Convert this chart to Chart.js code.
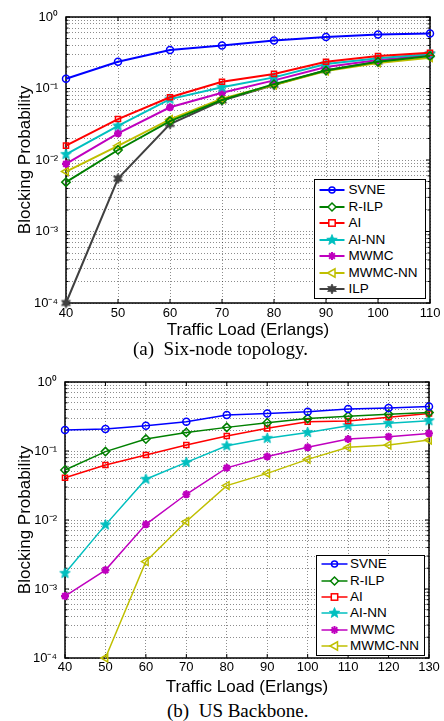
<!DOCTYPE html>
<html><head><meta charset="utf-8">
<script src="https://cdn.jsdelivr.net/npm/chart.js@4.4.1/dist/chart.umd.min.js"></script>
<style>
html,body{margin:0;padding:0;background:#fff;}
body{width:444px;height:721px;overflow:hidden;position:relative;font-family:"Liberation Sans",Arial,sans-serif;}
canvas{position:absolute;left:0;}
#c1{top:0;}
#c2{top:360px;}
.cap{position:absolute;font-family:"Liberation Serif","Times New Roman",serif;font-size:19px;line-height:22px;white-space:pre;color:#000;}
.legend{position:absolute;border:1px solid #000;background:#fff;box-sizing:border-box;font-size:13.5px;color:#000;}
.row{position:absolute;left:0;height:16px;white-space:nowrap;}
.row svg{position:absolute;left:0;top:0;}
.row span{position:absolute;top:0;line-height:16px;}
</style>
</head><body>
<canvas id="c1" width="444" height="341"></canvas>
<canvas id="c2" width="444" height="338"></canvas>
<div class="cap" style="left:133px;top:338px;">(a)  Six-node topology.</div>
<div class="cap" style="left:167px;top:700px;">(b)  US Backbone.</div>
<div class="legend" id="lg1" style="left:314px;top:179px;width:112px;height:120px;"></div>
<div class="legend" id="lg2" style="left:316px;top:555px;width:109px;height:101px;"></div>
<script>
// ---- data ----
const seriesNames = ['SVNE','R-ILP','AI','AI-NN','MWMC','MWMC-NN','ILP'];
const seriesColors = ['#0000ff','#008000','#ff0000','#00bfbf','#bf00bf','#bfbf00','#404040'];

const loadA = [40,50,60,70,80,90,100,110];
const svneA   = [0.137, 0.237, 0.345, 0.40, 0.47, 0.525, 0.57, 0.59];
const rilpA   = [0.0049, 0.0138, 0.035, 0.069, 0.115, 0.178, 0.237, 0.285];
const aiA     = [0.0159, 0.0374, 0.0753, 0.124, 0.16, 0.237, 0.285, 0.317];
const ainnA   = [0.012, 0.030, 0.071, 0.104, 0.143, 0.22, 0.264, 0.304];
const mwmcA   = [0.0088, 0.0236, 0.0546, 0.087, 0.13, 0.20, 0.25, 0.29];
const mwmcnnA = [0.0069, 0.0158, 0.037, 0.072, 0.112, 0.175, 0.228, 0.27];
const ilpA    = [0.0001, 0.0055, 0.0319, 0.068, 0.112, 0.18, 0.237, 0.30];

const loadB = [40,50,60,70,80,90,100,110,120,130];
const svneB   = [0.201, 0.208, 0.233, 0.266, 0.333, 0.35, 0.371, 0.407, 0.42, 0.44];
const rilpB   = [0.053, 0.098, 0.149, 0.186, 0.22, 0.257, 0.297, 0.32, 0.34, 0.36];
const aiB     = [0.041, 0.0627, 0.0875, 0.122, 0.165, 0.213, 0.266, 0.272, 0.308, 0.35];
const ainnB   = [0.00169, 0.0085, 0.039, 0.0685, 0.119, 0.153, 0.186, 0.233, 0.252, 0.275];
const mwmcB   = [0.00079, 0.00188, 0.00865, 0.0236, 0.057, 0.083, 0.113, 0.149, 0.161, 0.18];
const mwmcnnB = [null, 0.0001, 0.0025, 0.0095, 0.0315, 0.0474, 0.0757, 0.113, 0.122, 0.144];

const yMajorValues = [0.0001, 0.001, 0.01, 0.1, 1];
const yTickLabels = ['10\u207B\u2074','10\u207B\u00B3','10\u207B\u00B2','10\u207B\u00B9','10\u2070'];
const xTitle = 'Traffic Load (Erlangs)';
const yTitle = 'Blocking Probability';

// ---- marker images ----
function starCanvas(n, ro, ri, color){
  const s = Math.ceil(ro*2+2);
  const c = document.createElement('canvas'); c.width = s; c.height = s;
  const g = c.getContext('2d');
  g.beginPath();
  for(let k=0;k<2*n;k++){
    const r = k%2===0 ? ro : ri;
    const a = -Math.PI/2 + k*Math.PI/n;
    const px = s/2 + r*Math.cos(a), py = s/2 + r*Math.sin(a);
    k===0 ? g.moveTo(px,py) : g.lineTo(px,py);
  }
  g.closePath(); g.fillStyle = color; g.fill();
  g.strokeStyle = color; g.lineWidth = 0.8; g.stroke();
  return c;
}
const pentaImg = starCanvas(5, 5.5, 2.4, seriesColors[3]);
const hexaImg = starCanvas(6, 5.2, 2.8, seriesColors[6]);

const styles = [
  {pointStyle:'circle', pointRadius:3.5},
  {pointStyle:'rectRot', pointRadius:4.2},
  {pointStyle:'rect', pointRadius:3.6},
  {pointStyle:pentaImg, pointRadius:5},
  {pointStyle:'star', pointRadius:4},
  {pointStyle:'triangle', pointRadius:4.5, pointRotation:-90},
  {pointStyle:hexaImg, pointRadius:5}
];

function mkDataset(idx, xs, ys, lw){
  const st = styles[idx];
  return Object.assign({
    label: seriesNames[idx],
    data: xs.map((x,i)=>({x:x, y:ys[i]})),
    borderColor: seriesColors[idx],
    backgroundColor: 'rgba(0,0,0,0)',
    borderWidth: lw,
    pointBorderColor: seriesColors[idx],
    pointBackgroundColor: 'rgba(0,0,0,0)',
    pointBorderWidth: idx===4 ? 2.2 : 1.5,
    tension: 0,
    clip: false
  }, st);
}

const boxPlugin = {
  id: 'mbox',
  beforeDatasetsDraw(chart){
    const {ctx, chartArea:a, scales} = chart;
    const x = scales.x, y = scales.y;
    ctx.save();
    ctx.strokeStyle = '#000'; ctx.lineWidth = 1;
    ctx.beginPath();
    x.ticks.forEach(t=>{
      const px = x.getPixelForValue(t.value);
      ctx.moveTo(px, a.bottom); ctx.lineTo(px, a.bottom-4);
      ctx.moveTo(px, a.top); ctx.lineTo(px, a.top+4);
    });
    y.ticks.forEach(t=>{
      const py = y.getPixelForValue(t.value);
      const L = t.major ? 4 : 2.5;
      ctx.moveTo(a.left, py); ctx.lineTo(a.left+L, py);
      ctx.moveTo(a.right, py); ctx.lineTo(a.right-L, py);
    });
    ctx.stroke();
    ctx.lineWidth = 1.5;
    ctx.strokeRect(a.left, a.top, a.right-a.left, a.bottom-a.top);
    ctx.restore();
  }
};

function isMajor(v){ return yMajorValues.some(m=>Math.abs(Math.log10(v)-Math.log10(m))<1e-6); }

function makeChart(canvas, xs, dsList, xmax, yWidth, xHeight, padTop, padRight, tickPad){
  return new Chart(canvas, {
    type: 'line',
    data: { datasets: dsList },
    plugins: [boxPlugin],
    options: {
      responsive: false, animation: false, devicePixelRatio: 1,
      layout: { padding: {top: padTop, right: padRight, left: 0, bottom: 0} },
      plugins: { legend: {display:false}, tooltip: {enabled:false} },
      scales: {
        x: {
          type: 'linear', min: xs[0], max: xmax,
          afterFit(s){ s.height = xHeight; },
          ticks: { stepSize: 10, autoSkip:false, maxRotation:0, padding: tickPad, color:'#000', font:{size:13} },
          grid: { color:'rgba(0,0,0,0.45)', lineWidth:1, drawTicks:false },
          border: { display:false, dash:[1,2] },
          title: { display:true, text:xTitle, color:'#000', font:{size:17}, padding:{top:0,bottom:0} }
        },
        y: {
          type: 'logarithmic', min: 0.0001, max: 1,
          afterFit(s){ s.width = yWidth; },
          afterBuildTicks(s){
            const t = [];
            for(let e=-4;e<0;e++){ for(let m=1;m<10;m++){ const v = parseFloat((m*Math.pow(10,e)).toPrecision(6)); t.push({value:v, major: m===1}); } }
            t.push({value:1, major:true});
            s.ticks = t;
          },
          ticks: {
            autoSkip:false, padding: 8, color:'#000', font:{size:13},
            callback(v){ const i = yMajorValues.findIndex(m=>Math.abs(Math.log10(v)-Math.log10(m))<1e-6); return i>=0 ? yTickLabels[i] : ''; }
          },
          grid: { color:'rgba(0,0,0,0.45)', lineWidth:1, drawTicks:false },
          border: { display:false, dash:[1,2] },
          title: { display:true, text:yTitle, color:'#000', font:{size:17}, padding:{top:15,bottom:0} }
        }
      }
    }
  });
}

Chart.defaults.font.family = '"Liberation Sans", Arial, sans-serif';
Chart.defaults.color = '#000';

const dsA = [svneA, rilpA, aiA, ainnA, mwmcA, mwmcnnA, ilpA].map((ys,i)=>mkDataset(i, loadA, ys, 2));
const dsB = [svneB, rilpB, aiB, ainnB, mwmcB, mwmcnnB].map((ys,i)=>mkDataset(i, loadB, ys, 1.5));

makeChart(document.getElementById('c1'), loadA, dsA, 110, 66, 38, 17, 14, 3);
makeChart(document.getElementById('c2'), loadB, dsB, 130, 65, 40, 22, 15, 2);

// ---- legends ----
function markerSvg(idx, cx, cy, color){
  const c = color;
  switch(idx){
    case 0: return `<circle cx="${cx}" cy="${cy}" r="3" fill="none" stroke="${c}" stroke-width="1.5"/>`;
    case 1: return `<polygon points="${cx},${cy-4} ${cx+4},${cy} ${cx},${cy+4} ${cx-4},${cy}" fill="#fff" stroke="${c}" stroke-width="1.5"/>`;
    case 2: return `<rect x="${cx-3.2}" y="${cy-3.2}" width="6.4" height="6.4" fill="#fff" stroke="${c}" stroke-width="1.5"/>`;
    case 3: case 6: {
      const n = idx===3?5:6, ro = idx===3?5.5:5, ri = idx===3?2.4:2.7;
      let p = [];
      for(let k=0;k<2*n;k++){ const r = k%2===0?ro:ri; const a=-Math.PI/2+k*Math.PI/n; p.push((cx+r*Math.cos(a)).toFixed(2)+','+(cy+r*Math.sin(a)).toFixed(2)); }
      return `<polygon points="${p.join(' ')}" fill="${c}" stroke="${c}" stroke-width="0.8"/>`;
    }
    case 4: {
      let s = '';
      for(let k=0;k<4;k++){ const a = k*Math.PI/4; const dx=4*Math.cos(a), dy=4*Math.sin(a); s += `<line x1="${cx-dx}" y1="${cy-dy}" x2="${cx+dx}" y2="${cy+dy}" stroke="${c}" stroke-width="2"/>`; }
      return s;
    }
    case 5: return `<polygon points="${cx-4.5},${cy} ${cx+3},${cy-4.2} ${cx+3},${cy+4.2}" fill="#fff" stroke="${c}" stroke-width="1.5"/>`;
  }
  return '';
}
function buildLegend(el, count, firstCenter, step, lineX1, lineX2, textX, lw){
  for(let i=0;i<count;i++){
    const row = document.createElement('div');
    row.className = 'row';
    row.style.top = (firstCenter + step*i - 8) + 'px';
    row.style.width = '100%';
    const cx = (lineX1+lineX2)/2;
    row.innerHTML = `<svg width="${lineX2+2}" height="16"><line x1="${lineX1}" y1="8" x2="${lineX2}" y2="8" stroke="${seriesColors[i]}" stroke-width="${lw}"/>${markerSvg(i, cx, 8, seriesColors[i])}</svg><span style="left:${textX}px">${seriesNames[i]}</span>`;
    el.appendChild(row);
  }
}
buildLegend(document.getElementById('lg1'), 7, 10.3, 16.5, 4.5, 29.5, 33.5, 2);
buildLegend(document.getElementById('lg2'), 6, 8.3, 16.3, 4.5, 30.5, 33, 1.5);
</script>
</body></html>
